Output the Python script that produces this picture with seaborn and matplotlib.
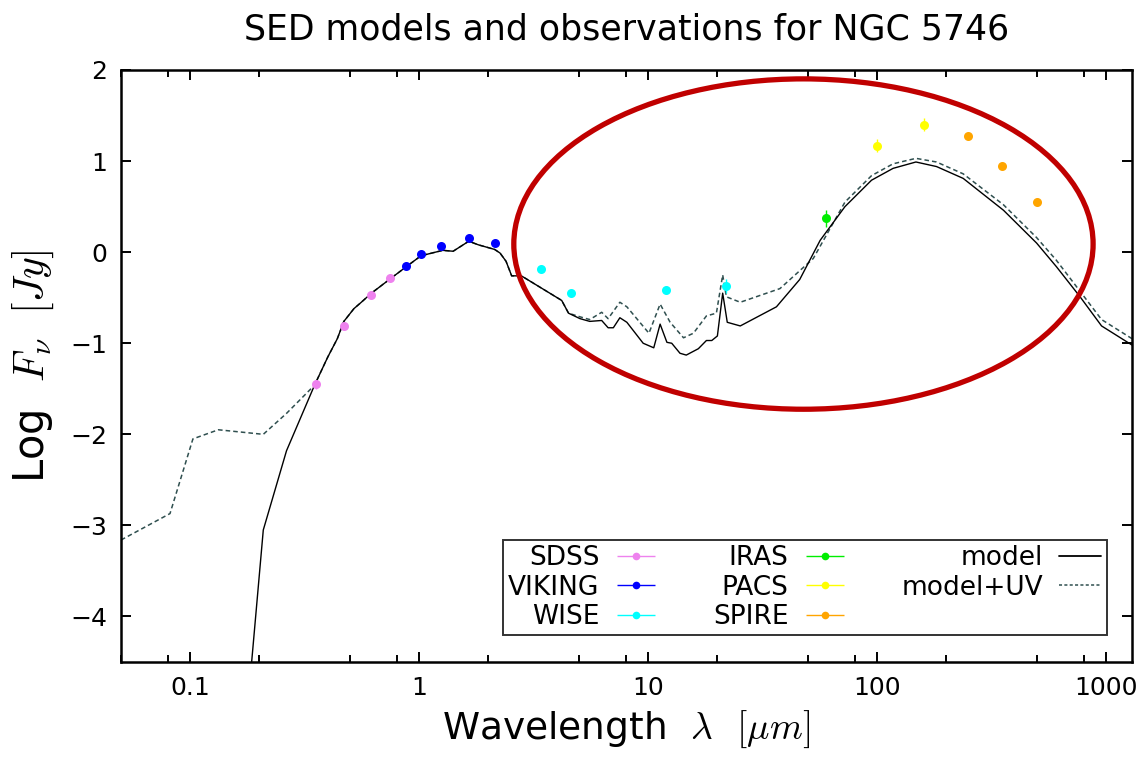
import numpy as np
import pandas as pd
import matplotlib
matplotlib.use('Agg')
from matplotlib import pyplot as plt
from matplotlib import ticker
from matplotlib.patches import Ellipse
from matplotlib.lines import Line2D
from matplotlib.legend_handler import HandlerErrorbar
import seaborn as sns

# model SED (wavelength in micron, log F_nu in Jy)
model_wl = [0.15, 0.18, 0.209, 0.264, 0.35, 0.40, 0.44, 0.47, 0.52, 0.56, 0.62,
            0.77, 0.88, 1.02, 1.27, 1.41, 1.65, 1.82, 2.14, 2.26, 2.40, 2.54,
            2.8, 4.2, 4.5, 5.05, 5.57, 6.28, 6.70, 7.06, 7.54, 8.09, 9.53,
            10.6, 11.3, 12.1, 12.7, 13.8, 14.7, 16.6, 18.0, 19.0, 20.1, 21.2,
            22.2, 25.3, 36.4, 46.0, 56.5, 72.5, 94.7, 117.6, 148, 182, 238,
            357, 498, 608, 771, 957, 1300]
model_logf = [-7.0, -4.9, -3.05, -2.18, -1.46, -1.15, -0.95, -0.76, -0.62, -0.55, -0.45,
              -0.27, -0.16, -0.04, 0.02, 0.01, 0.12, 0.08, 0.03, -0.01, -0.10, -0.26,
              -0.26, -0.53, -0.67, -0.73, -0.76, -0.75, -0.83, -0.83, -0.72, -0.77, -1.00,
              -1.05, -0.79, -0.99, -1.00, -1.11, -1.13, -1.06, -0.97, -0.97, -0.92, -0.45,
              -0.77, -0.81, -0.60, -0.30, 0.13, 0.50, 0.79, 0.92, 0.99, 0.94, 0.81,
              0.46, 0.10, -0.16, -0.49, -0.81, -1.02]

# model + UV
uv_wl = [0.05, 0.0818, 0.103, 0.133, 0.209, 0.264, 0.35, 0.40, 0.44, 0.47, 0.52,
         0.56, 0.62, 0.77, 0.88, 1.02, 1.27, 1.41, 1.65, 1.82, 2.14, 2.26, 2.40,
         2.54, 2.8, 4.2, 4.5, 5.05, 5.57, 6.28, 6.70, 7.54, 8.09, 10.1, 11.3,
         12.5, 14.3, 15.8, 18.0, 19.9, 21.2, 22.0, 25.3, 37.7, 52.7, 72.5, 94.7,
         117.6, 148, 182, 238, 357, 498, 608, 771, 957, 1300]
uv_logf = [-3.16, -2.87, -2.05, -1.95, -2.00, -1.77, -1.46, -1.15, -0.95, -0.76, -0.62,
           -0.55, -0.45, -0.27, -0.16, -0.04, 0.02, 0.01, 0.12, 0.08, 0.03, -0.01, -0.10,
           -0.26, -0.26, -0.53, -0.67, -0.71, -0.74, -0.66, -0.73, -0.55, -0.60, -0.89, -0.57,
           -0.77, -0.94, -0.89, -0.70, -0.67, -0.25, -0.49, -0.55, -0.40, -0.07, 0.55, 0.84,
           0.97, 1.03, 0.99, 0.86, 0.52, 0.16, -0.09, -0.43, -0.74, -0.95]

# observations
sdss_wl = [0.355, 0.469, 0.617, 0.748]
sdss_logf = [-1.45, -0.81, -0.47, -0.28]
sdss_err = [0.05, 0.03, 0.02, 0.02]

viking_wl = [0.88, 1.02, 1.25, 1.65, 2.15]
viking_logf = [-0.15, -0.02, 0.07, 0.16, 0.10]
viking_err = [0.02, 0.02, 0.02, 0.02, 0.02]

wise_wl = [3.4, 4.6, 12, 22]
wise_logf = [-0.19, -0.45, -0.41, -0.37]
wise_err = [0.02, 0.02, 0.04, 0.08]

iras_wl = [60]
iras_logf = [0.37]
iras_err = [0.09]

pacs_wl = [100, 160]
pacs_logf = [1.17, 1.40]
pacs_err = [0.07, 0.07]

spire_wl = [250, 350, 500]
spire_logf = [1.27, 0.95, 0.55]
spire_err = [0.02, 0.02, 0.03]

x_ticks = [0.1, 1, 10, 100, 1000]
y_ticks = [-4, -3, -2, -1, 0, 1, 2]


def main():
    sns.set_theme(style='ticks')
    plt.rcParams['font.family'] = ['DejaVu Sans']
    plt.rcParams['mathtext.fontset'] = 'cm'
    plt.rcParams['text.color'] = 'black'
    plt.rcParams['axes.labelcolor'] = 'black'

    fig, ax = plt.subplots(figsize=(11.43, 7.6), dpi=100)
    fig.subplots_adjust(left=0.1059, right=0.9904, bottom=0.1289, top=0.9079)
    ax.set_xscale('log')

    df_model = pd.DataFrame({'wl': model_wl, 'logf': model_logf})
    df_uv = pd.DataFrame({'wl': uv_wl, 'logf': uv_logf})
    sns.lineplot(data=df_uv, x='wl', y='logf', sort=False, estimator=None,
                 color='#2f4f4f', lw=1.1, linestyle=(0, (3, 2)), ax=ax)
    sns.lineplot(data=df_model, x='wl', y='logf', sort=False, estimator=None,
                 color='black', lw=1.0, ax=ax)

    surveys = [
        ('SDSS', sdss_wl, sdss_logf, sdss_err, '#ee82ee'),
        ('VIKING', viking_wl, viking_logf, viking_err, '#0000ff'),
        ('WISE', wise_wl, wise_logf, wise_err, '#00ffff'),
        ('IRAS', iras_wl, iras_logf, iras_err, '#00ee00'),
        ('PACS', pacs_wl, pacs_logf, pacs_err, '#ffff00'),
        ('SPIRE', spire_wl, spire_logf, spire_err, '#ffa500'),
    ]
    handles = []
    for name, wl, lf, err, col in surveys:
        ax.errorbar(wl, lf, yerr=err, fmt='o', color=col, ms=6.5, mew=0,
                    capsize=3, elinewidth=1, zorder=4)
        # legend proxy, horizontal bar like the gnuplot key
        h = ax.errorbar([np.nan], [np.nan], xerr=[1.0], fmt='o', color=col,
                        ms=5.5, mew=0, capsize=3, elinewidth=1, label=name)
        handles.append(h)
    handles.append(Line2D([], [], color='black', lw=1.3, label='model'))
    handles.append(Line2D([], [], color='#2f4f4f', lw=1.1,
                          linestyle=(0, (2, 1.5)), label='model+UV'))

    ax.add_patch(Ellipse((0.675, 0.706), 0.573, 0.558, transform=ax.transAxes,
                         fill=False, ec='#c00000', lw=3.8, zorder=6, clip_on=False))

    ax.set_xlim(0.05, 1300)
    ax.set_ylim(-4.5, 2)
    ax.set_xticks(x_ticks)
    ax.xaxis.set_major_formatter(ticker.FuncFormatter(lambda v, p: f'{v:g}'))
    ax.xaxis.set_minor_locator(ticker.LogLocator(base=10, subs=[2, 5, 8], numticks=20))
    ax.xaxis.set_minor_formatter(ticker.NullFormatter())
    ax.set_yticks(y_ticks)
    ax.tick_params(which='both', direction='in', top=True, right=True,
                   labelsize=18, width=1.4, pad=10, colors='black')
    ax.tick_params(which='major', length=7)
    ax.tick_params(which='minor', length=5)
    for sp in ax.spines.values():
        sp.set_linewidth(1.8)
        sp.set_color('black')

    ax.set_title('SED models and observations for NGC 5746', fontsize=25, pad=22)
    ax.set_xlabel(r'Wavelength  $\lambda$  $[\mu m]$', fontsize=27, labelpad=6)
    ax.set_ylabel(r'Log  $F_\nu\ \ [Jy]$', fontsize=30, labelpad=10)

    leg = ax.legend(handles=handles, ncol=3, markerfirst=False, loc='lower right',
                    bbox_to_anchor=(0.975, 0.0456), borderaxespad=0, fontsize=19,
                    frameon=True, fancybox=False, edgecolor='black',
                    handlelength=1.6, handletextpad=0.6, columnspacing=2.1,
                    labelspacing=0.12, borderpad=0.2, numpoints=1,
                    handler_map={type(handles[0]): HandlerErrorbar(xerr_size=0.72)})
    leg.get_frame().set_linewidth(1.4)

    fig.savefig('out.png', dpi=100)


if __name__ == '__main__':
    main()
